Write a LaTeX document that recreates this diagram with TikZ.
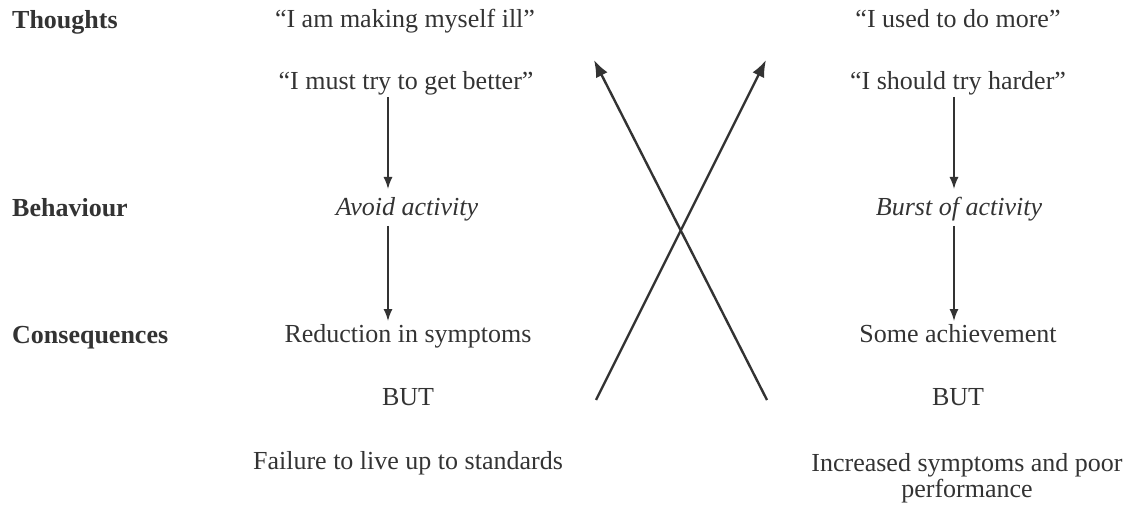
\documentclass[tikz,border=0pt]{standalone}
\usepackage{fontspec}
\setmainfont{Liberation Serif}
\usetikzlibrary{arrows.meta}
\definecolor{ink}{HTML}{333333}
\tikzset{
  txt/.style={anchor=base, inner sep=0pt, text=ink, font=\fontsize{26}{26}\selectfont},
  lbl/.style={txt, anchor=base west, font=\fontsize{26}{26}\selectfont\bfseries},
  varrow/.style={draw=ink, line width=1.5pt, -{Latex[length=12pt,width=9pt]}},
  xarrow/.style={draw=ink, line width=2.4pt, -{Latex[length=17pt,width=13pt]}}
}
\begin{document}
\begin{tikzpicture}[x=1pt,y=-1pt]
\useasboundingbox (0,0) rectangle (1133,505);
% row labels
\node[lbl] (lt) at (12,29) {Thoughts};
\node[lbl] (lb) at (12,217) {Behaviour};
\node[lbl] (lc) at (12,343) {Consequences};
% left column
\node[txt] (l1) at (405,28) {“I am making myself ill”};
\node[txt] (l2) at (406,90) {“I must try to get better”};
\node[txt] (l3) at (407,216) {\itshape Avoid activity};
\node[txt] (l4) at (408,342) {Reduction in symptoms};
\node[txt] (l5) at (408,405) {BUT};
\node[txt] (l6) at (408,469) {Failure to live up to standards};
% right column
\node[txt] (r1) at (958,28) {“I used to do more”};
\node[txt] (r2) at (958,90) {“I should try harder”};
\node[txt] (r3) at (959,216) {\itshape Burst of activity};
\node[txt] (r4) at (958,342) {Some achievement};
\node[txt] (r5) at (958,405) {BUT};
\node[txt, align=center, font=\fontsize{26}{25.5}\selectfont] (r6) at (967,497) {Increased symptoms and poor\\performance};
% arrow end points
\coordinate (la1) at (388,97);
\coordinate (la2) at (388,189);
\coordinate (la3) at (388,226);
\coordinate (la4) at (388,321);
\coordinate (ra1) at (954,97);
\coordinate (ra2) at (954,189);
\coordinate (ra3) at (954,226);
\coordinate (ra4) at (954,321);
\coordinate (x1) at (596,400);
\coordinate (x2) at (766,60);
\coordinate (x3) at (767,400);
\coordinate (x4) at (594,60);
% connectors
\draw[varrow] (la1) -- (la2);
\draw[varrow] (la3) -- (la4);
\draw[varrow] (ra1) -- (ra2);
\draw[varrow] (ra3) -- (ra4);
\draw[xarrow] (x1) -- (x2);
\draw[xarrow] (x3) -- (x4);
\end{tikzpicture}
\end{document}
